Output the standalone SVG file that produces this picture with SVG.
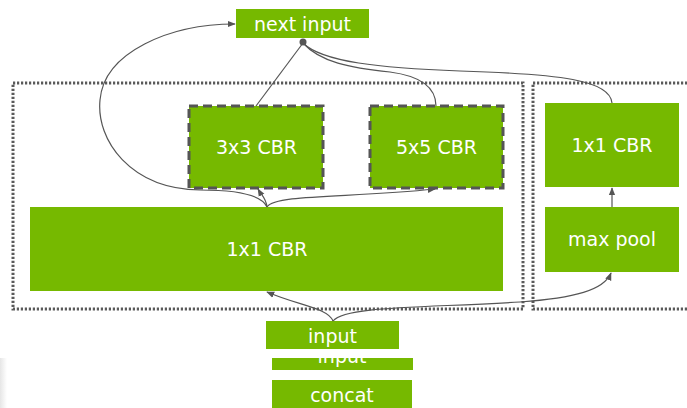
<svg xmlns="http://www.w3.org/2000/svg" width="687" height="408" viewBox="0 0 687 408">
  <defs>
    <style>
      .blk { fill: #76b900; }
      .dash { stroke: #555; stroke-width: 3; stroke-dasharray: 9 5; }
      .grp { fill: none; stroke: #5a5a5a; stroke-width: 3; stroke-dasharray: 2.2 1.8; }
      .lbl { fill: #ffffff; font-family: "DejaVu Sans", "Liberation Sans", sans-serif; font-size: 19px; text-anchor: middle; }
      .wire { fill: none; stroke: #555; stroke-width: 1.2; }
    </style>
    <marker id="arr" viewBox="0 0 10 10" refX="9" refY="5" markerWidth="8" markerHeight="8" markerUnits="userSpaceOnUse" orient="auto">
      <path d="M0,1 L10,5 L0,9 Z" fill="#555"/>
    </marker>
    <linearGradient id="edge" x1="0" y1="0" x2="1" y2="0">
      <stop offset="0" stop-color="#e6e6e6"/>
      <stop offset="1" stop-color="#ffffff"/>
    </linearGradient>
    <clipPath id="clipIn2">
      <rect x="272" y="358" width="141" height="12"/>
    </clipPath>
  </defs>

  <rect x="0" y="0" width="687" height="408" fill="#ffffff"/>
  <rect x="0" y="358" width="7" height="50" fill="url(#edge)"/>

  <!-- dotted group frames -->
  <g id="frames">
    <rect class="grp" x="13" y="83" width="510" height="226"/>
    <rect class="grp" x="533" y="83" width="170" height="226"/>
  </g>

  <g id="next-input">
    <rect class="blk" x="236" y="9" width="133" height="29"/>
    <text class="lbl" x="302.5" y="31">next input</text>
  </g>

  <g id="conv3x3">
    <rect class="blk dash" x="189" y="106" width="134" height="82"/>
    <text class="lbl" x="256.5" y="154">3x3 CBR</text>
  </g>

  <g id="conv5x5">
    <rect class="blk dash" x="370" y="106" width="133" height="82"/>
    <text class="lbl" x="436.5" y="154">5x5 CBR</text>
  </g>

  <g id="conv1x1-main">
    <rect class="blk" x="30" y="207" width="473" height="84"/>
    <text class="lbl" x="267" y="256">1x1 CBR</text>
  </g>

  <g id="conv1x1-pool">
    <rect class="blk" x="545" y="103" width="134" height="84"/>
    <text class="lbl" x="612" y="152">1x1 CBR</text>
  </g>

  <g id="max-pool">
    <rect class="blk" x="545" y="207" width="134" height="65"/>
    <text class="lbl" x="612" y="246">max pool</text>
  </g>

  <g id="input">
    <rect class="blk" x="266" y="321" width="133" height="28"/>
    <text class="lbl" x="332.5" y="343">input</text>
  </g>

  <g id="input-2">
    <rect class="blk" x="272" y="358" width="141" height="12"/>
    <text class="lbl" x="342" y="363" clip-path="url(#clipIn2)">input</text>
  </g>

  <g id="concat">
    <rect class="blk" x="272" y="380" width="140" height="30"/>
    <text class="lbl" x="342" y="402">concat</text>
  </g>

  <!-- connectors -->
  <g id="connectors">
    <path class="wire" marker-end="url(#arr)" d="M333,321 C328,308 300,306 267,292"/>
    <path class="wire" marker-end="url(#arr)" d="M333,321 C345,306 420,308 520,302 C575,298 604,290 611,273"/>
    <path class="wire" marker-end="url(#arr)" d="M612,207 L612,188"/>
    <path class="wire" marker-end="url(#arr)" d="M267,207 C266,198 262,196 258,189"/>
    <path class="wire" marker-end="url(#arr)" d="M267,207 C275,194 350,198 435,189"/>
    <path class="wire" marker-end="url(#arr)" d="M267,207 C262,195 240,190 200,190 C130,189 96,140 100,100 C104,52 170,24 235,24"/>
    <path class="wire" d="M303,43 L256,106"/>
    <path class="wire" d="M303,43 C320,62 350,68 390,72 C428,77 436,92 436,106"/>
    <path class="wire" d="M303,43 C322,62 380,68 460,71 C560,74 610,80 612,103"/>
    <circle cx="303" cy="42" r="3.5" fill="#555"/>
  </g>
</svg>
